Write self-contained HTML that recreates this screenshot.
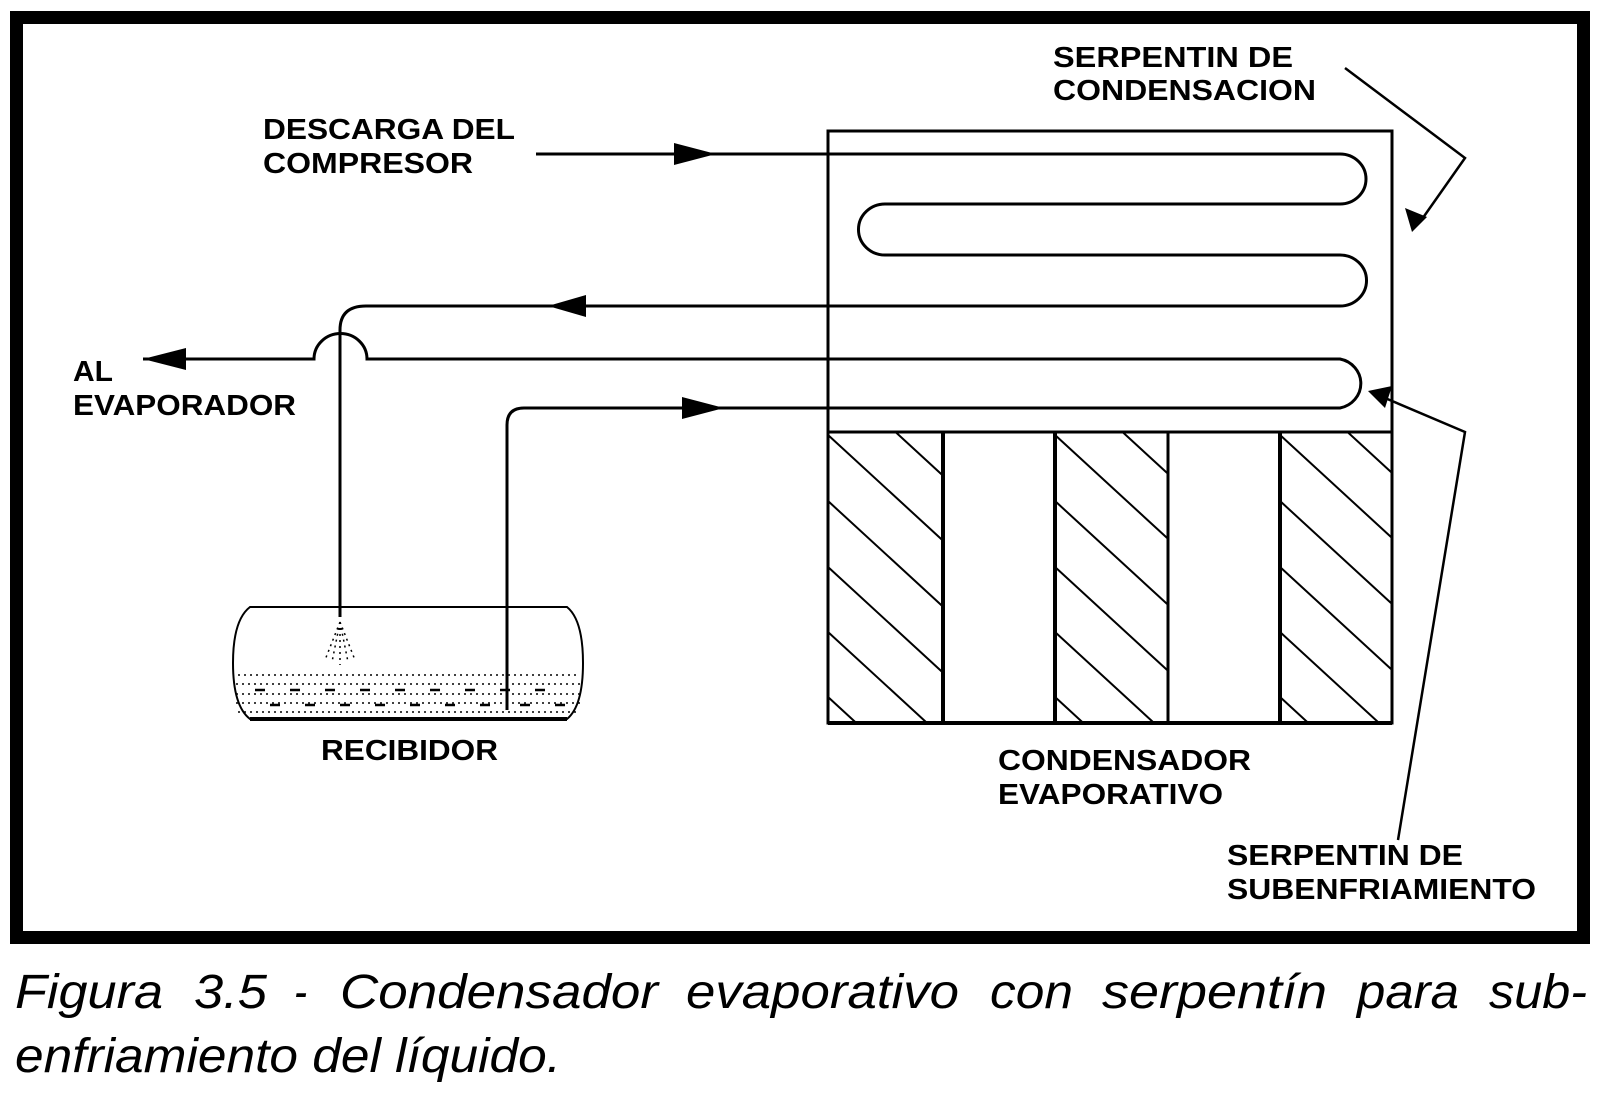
<!DOCTYPE html>
<html><head><meta charset="utf-8"><style>html,body{margin:0;padding:0;background:#fff}svg{display:block}</style></head>
<body>
<svg width="1600" height="1107" viewBox="0 0 1600 1107" xmlns="http://www.w3.org/2000/svg">
<rect x="0" y="0" width="1600" height="1107" fill="#fff"/>
<rect x="16.5" y="17.5" width="1567" height="920" fill="none" stroke="#000" stroke-width="13"/>
<g font-family="Liberation Sans, Arial, sans-serif" font-weight="bold" font-size="29" fill="#000">
<text x="1053" y="67" textLength="240" lengthAdjust="spacingAndGlyphs">SERPENTIN DE</text>
<text x="1053" y="100" textLength="263" lengthAdjust="spacingAndGlyphs">CONDENSACION</text>
<text x="263" y="139" textLength="252" lengthAdjust="spacingAndGlyphs">DESCARGA DEL</text>
<text x="263" y="173" textLength="210" lengthAdjust="spacingAndGlyphs">COMPRESOR</text>
<text x="73" y="381" textLength="40" lengthAdjust="spacingAndGlyphs">AL</text>
<text x="73" y="415" textLength="223" lengthAdjust="spacingAndGlyphs">EVAPORADOR</text>
<text x="321" y="760" textLength="177" lengthAdjust="spacingAndGlyphs">RECIBIDOR</text>
<text x="998" y="770" textLength="253" lengthAdjust="spacingAndGlyphs">CONDENSADOR</text>
<text x="998" y="804" textLength="225" lengthAdjust="spacingAndGlyphs">EVAPORATIVO</text>
<text x="1227" y="865" textLength="236" lengthAdjust="spacingAndGlyphs">SERPENTIN DE</text>
<text x="1227" y="899" textLength="309" lengthAdjust="spacingAndGlyphs">SUBENFRIAMIENTO</text>
</g>
<g fill="none" stroke="#000" stroke-width="3">
<rect x="828" y="131" width="564" height="592"/>
<line x1="828" y1="432" x2="1392" y2="432"/>
<line x1="943" y1="432" x2="943" y2="723" stroke-width="4"/>
<line x1="1055" y1="432" x2="1055" y2="723" stroke-width="4"/>
<line x1="1168" y1="432" x2="1168" y2="723"/>
<line x1="1280" y1="432" x2="1280" y2="723" stroke-width="4"/>
<line x1="828" y1="723" x2="1392" y2="723" stroke-width="4"/>
<path d="M536 154 H1340 A26 25 0 0 1 1340 204 H885 A26 25 0 0 0 885 255 H1340 A26 25 0 0 1 1340 306 H366 Q340 306 340 330 V617"/>
<path d="M143 359 H314 A26 25 0 0 1 367 359 H1340 A26 25 0 0 1 1340 408 H524 Q507 408 507 425 V710"/>
<polyline points="1345,68 1465,158 1420,222" stroke-width="2.5"/>
<polyline points="1398,840 1465,432 1385,398" stroke-width="2.5"/>
<path d="M250 607 H567 Q583 620 583 663 Q583 706 567 719 H250 Q233 706 233 663 Q233 620 250 607 Z" stroke-width="2"/>
<line x1="250" y1="719" x2="567" y2="719" stroke-width="4"/>
</g>
<defs>
<clipPath id="c1"><rect x="829" y="433" width="113" height="289"/></clipPath>
<clipPath id="c2"><rect x="1056" y="433" width="111" height="289"/></clipPath>
<clipPath id="c3"><rect x="1281" y="433" width="110" height="289"/></clipPath>
</defs>
<g stroke="#000" stroke-width="2">
<g clip-path="url(#c1)">
<line x1="828" y1="370" x2="1000" y2="528"/><line x1="828" y1="435" x2="1000" y2="593"/><line x1="828" y1="501" x2="1000" y2="659"/><line x1="828" y1="567" x2="1000" y2="725"/><line x1="828" y1="632" x2="1000" y2="790"/><line x1="828" y1="697" x2="1000" y2="855"/>
</g>
<g clip-path="url(#c2)">
<line x1="1055" y1="370" x2="1227" y2="528"/><line x1="1055" y1="435" x2="1227" y2="593"/><line x1="1055" y1="501" x2="1227" y2="659"/><line x1="1055" y1="567" x2="1227" y2="725"/><line x1="1055" y1="632" x2="1227" y2="790"/><line x1="1055" y1="697" x2="1227" y2="855"/>
</g>
<g clip-path="url(#c3)">
<line x1="1280" y1="370" x2="1452" y2="528"/><line x1="1280" y1="435" x2="1452" y2="593"/><line x1="1280" y1="501" x2="1452" y2="659"/><line x1="1280" y1="567" x2="1452" y2="725"/><line x1="1280" y1="632" x2="1452" y2="790"/><line x1="1280" y1="697" x2="1452" y2="855"/>
</g>
</g>
<g fill="#000">
<polygon points="674,143 716,154 674,165"/>
<polygon points="586,295 548,306 586,317"/>
<polygon points="186,348 143,359 186,370"/>
<polygon points="682,397 724,408 682,419"/>
<polygon points="1412,232 1405,208 1427,217"/>
<polygon points="1368,391 1392,386 1385,408"/>
</g>
<g stroke="#000" stroke-width="1.5" stroke-dasharray="2 4" fill="none">
<path d="M238 675 H578 M236 684 H580 M236 694 H580 M236 703 H580 M238 712 H578"/>
<path d="M340 622 L325 660 M340 622 L355 660 M340 622 L340 665 M340 622 L332 662 M340 622 L348 662"/>
</g>
<g stroke="#000" stroke-width="2.5">
<path d="M255 690 h10 M290 690 h10 M325 690 h10 M360 690 h10 M395 690 h10 M430 690 h10 M465 690 h10 M500 690 h10 M535 690 h10 M270 705 h10 M305 705 h10 M340 705 h10 M375 705 h10 M410 705 h10 M445 705 h10 M480 705 h10 M520 705 h10 M555 705 h10"/>
</g>
<g font-family="Liberation Sans, Arial, sans-serif" font-style="italic" font-size="48" fill="#000" lengthAdjust="spacingAndGlyphs">
<text x="15" y="1008" textLength="148" lengthAdjust="spacingAndGlyphs">Figura</text>
<text x="194" y="1008" textLength="73" lengthAdjust="spacingAndGlyphs">3.5</text>
<text x="294" y="1008" textLength="13" lengthAdjust="spacingAndGlyphs">-</text>
<text x="340" y="1008" textLength="318" lengthAdjust="spacingAndGlyphs">Condensador</text>
<text x="686" y="1008" textLength="273" lengthAdjust="spacingAndGlyphs">evaporativo</text>
<text x="990" y="1008" textLength="83" lengthAdjust="spacingAndGlyphs">con</text>
<text x="1102" y="1008" textLength="225" lengthAdjust="spacingAndGlyphs">serpentín</text>
<text x="1357" y="1008" textLength="102" lengthAdjust="spacingAndGlyphs">para</text>
<text x="1489" y="1008" textLength="98" lengthAdjust="spacingAndGlyphs">sub-</text>
<text x="15" y="1072" textLength="546" lengthAdjust="spacingAndGlyphs">enfriamiento del líquido.</text>
</g>
</svg>
</body></html>
